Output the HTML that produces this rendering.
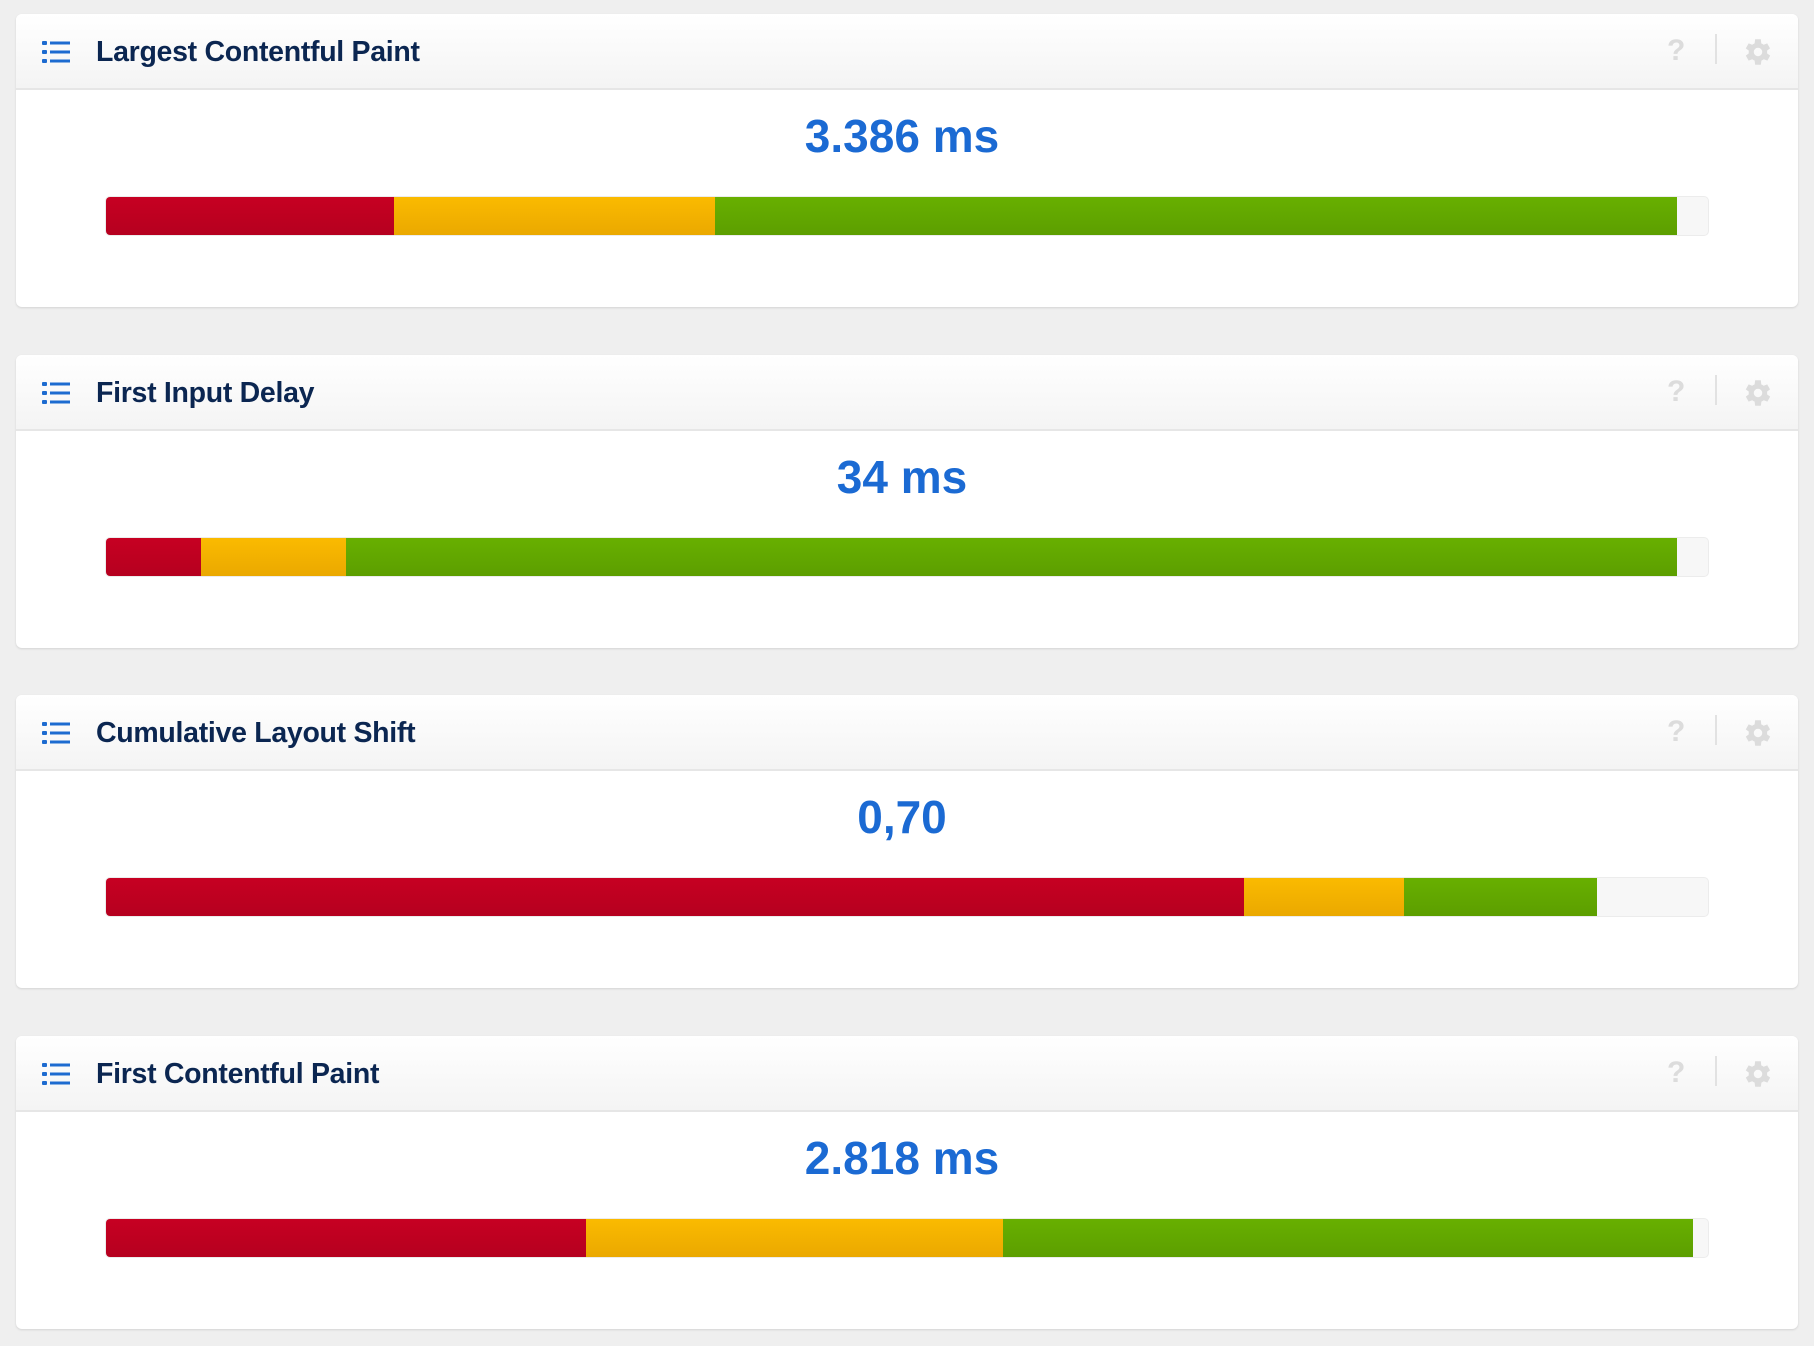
<!DOCTYPE html>
<html><head><meta charset="utf-8">
<style>
html,body{margin:0;padding:0;}
body{width:1814px;height:1346px;background:#efefef;position:relative;overflow:hidden;font-family:"Liberation Sans",sans-serif;}
.card{position:absolute;left:16px;width:1782px;height:293px;background:#fff;border-radius:6px;box-shadow:0 1px 2px rgba(0,0,0,0.12);}
.hdr{position:absolute;left:0;top:0;width:100%;height:74px;border-bottom:2px solid #e6e6e6;background:linear-gradient(#fff,#f4f4f4);border-radius:6px 6px 0 0;}
.title{position:absolute;left:80px;top:22px;font-size:28.5px;font-weight:bold;color:#0b2651;letter-spacing:-0.3px;}
.icon{position:absolute;left:26px;top:27px;width:30px;height:22px;}
.help{position:absolute;left:1651px;top:20px;font-size:30px;font-weight:bold;color:#dcdcdc;}
.sep{position:absolute;left:1699px;top:20px;width:2px;height:30px;background:#e2e2e2;}
.gear{position:absolute;left:1725px;top:21px;width:34px;height:34px;}
.val{position:absolute;left:-5px;width:100%;top:92px;text-align:center;font-size:46px;font-weight:bold;color:#1b6ad3;line-height:60px;}
.track{position:absolute;left:89px;top:182px;width:1604px;height:40px;background:#f7f7f7;border:1px solid #ececec;box-sizing:border-box;border-radius:5px;overflow:hidden;}
.seg{position:absolute;top:-1px;height:40px;}
.r{background:linear-gradient(#c70022,#b5001f);}
.y{background:linear-gradient(#fbbb00,#eaa800);}
.g{background:linear-gradient(#68b000,#5c9e00);}
</style></head>
<body>
<div id="root"></div>
<script>
const titles = ["Largest Contentful Paint","First Input Delay","Cumulative Layout Shift","First Contentful Paint"];
const values = ["3.386 ms","34 ms","0,70","2.818 ms"];
const poorPct = [18, 6, 71, 30];
const needsPct = [20, 9, 10, 26];
const goodPct = [60, 83, 12, 43];

const root = document.getElementById('root');
const trackW = 1604;
function xScale(p){ return p/100*trackW; }
const tops = [14, 354.7, 695.3, 1036];
titles.forEach((t,i)=>{
  const card = document.createElement('div');
  card.className='card';
  card.style.top = tops[i]+'px';
  
  
  card.innerHTML = `
  <div class="hdr">
    <svg class="icon" viewBox="0 0 30 22"><g fill="#1d6bd0"><rect x="0" y="0" width="5" height="4" rx="1"/><rect x="8" y="0.5" width="20" height="3"/><rect x="0" y="9" width="5" height="4" rx="1"/><rect x="8" y="9.5" width="20" height="3"/><rect x="0" y="18" width="5" height="4" rx="1"/><rect x="8" y="18.5" width="20" height="3"/></g></svg>
    <div class="title">${t}</div>
    <div class="help">?</div>
    <div class="sep"></div>
    <svg class="gear" viewBox="0 0 24 24"><path fill="#dcdcdc" d="M19.4 13a7.5 7.5 0 0 0 0-2l2.1-1.6-2-3.5-2.5 1a7 7 0 0 0-1.7-1L15 3h-4l-.4 2.9a7 7 0 0 0-1.7 1l-2.5-1-2 3.5L6.5 11a7.5 7.5 0 0 0 0 2l-2.1 1.6 2 3.5 2.5-1a7 7 0 0 0 1.7 1L11 21h4l.4-2.9a7 7 0 0 0 1.7-1l2.5 1 2-3.5zM13 15a3 3 0 1 1 0-6 3 3 0 0 1 0 6z" transform="translate(-1 0)"/></svg>
  </div>
  <div class="val">${values[i]}</div>`;
  const track = document.createElement('div');
  track.className='track';
  
  
  const segs = [[poorPct[i],'r','poor'],[needsPct[i],'y','needs-improvement'],[goodPct[i],'g','good']];
  let acc = 0;
  segs.forEach(s=>{
    const d = document.createElement('div');
    d.className = 'seg '+s[1];
    d.style.left = (xScale(acc)-1)+'px';
    d.style.width = xScale(s[0])+'px';
    
    
    track.appendChild(d);
    acc += s[0];
  });
  card.appendChild(track);
  root.appendChild(card);
});
</script>
</body></html>
